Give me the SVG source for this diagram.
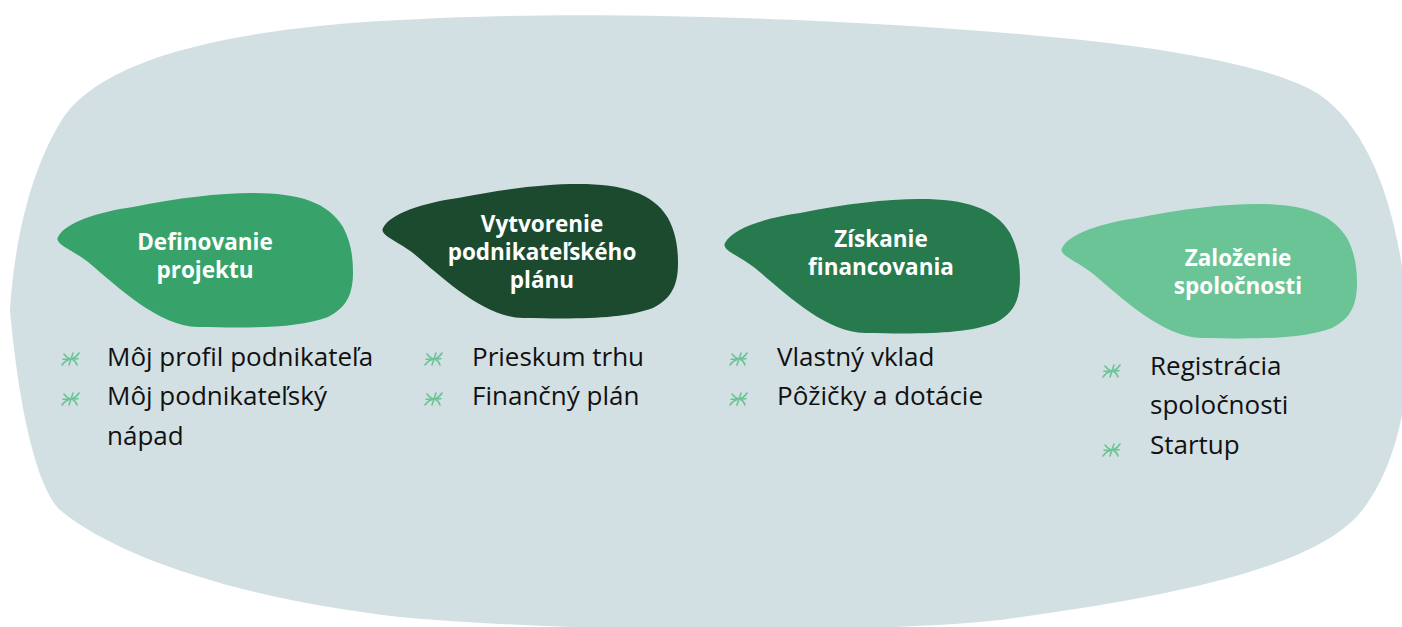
<svg xmlns="http://www.w3.org/2000/svg" width="1402" height="627" viewBox="0 0 1402 627">
<style>
.title{font-family:"Open Sans","Liberation Sans",sans-serif;font-weight:700;font-size:22.5px;fill:#ffffff;text-anchor:middle}
.item{font-family:"Open Sans","Liberation Sans",sans-serif;font-size:26px;fill:#111111}
.bul{fill:none;stroke:#6bc496;stroke-width:1.6;stroke-linecap:round;stroke-linejoin:round}
</style>
<defs>
<path id="leaf" d="M 0,45 C 8,30 40,20 75,15 C 120,6 160,1 195,1 C 240,1 270,10 285,35 C 293,50 295,65 295,80 C 295,100 290,115 270,125 C 240,136 200,136 140,135 C 100,134 60,95 30,70 C 15,58 -4,52 0,45 Z"/>
<g id="bullet">
<path class="bul" d="M -7,-5 C -5,-2 -3,-1 -1,0 C -4,1 -7,3 -9,6 M 8,-6 C 6,-3 4,-1 1,0 C 3,1 5,3 6,6 M 2,-6 L -2,6 M -8,0.3 L 7,-0.3"/>
</g>
</defs>
<path id="background" fill="#d3e0e3" d="M 10,310 C 15,230 35,160 65,115 C 110,55 240,28 400,20 C 600,8 900,20 1100,42 C 1220,56 1290,75 1320,95 C 1370,130 1400,210 1408,320 C 1412,400 1395,470 1360,513 C 1320,560 1210,592 1000,620 C 900,632 600,635 400,617 C 250,600 120,560 60,510 C 35,485 18,400 10,310 Z"/>
<g id="connectors"/>
<g id="node1">
<use href="#leaf" x="58" y="192" fill="#37a36b"/>
<text class="title" x="205" y="250">Definovanie</text>
<text class="title" x="205" y="278">projektu</text>
<use href="#bullet" x="71" y="359"/>
<use href="#bullet" x="71" y="399"/>
<text class="item" x="107" y="366">Môj profil podnikateľa</text>
<text class="item" x="107" y="405">Môj podnikateľský</text>
<text class="item" x="107" y="445">nápad</text>
</g>
<g id="node2">
<use href="#leaf" x="383" y="183" fill="#1c4a2e"/>
<text class="title" x="542" y="232">Vytvorenie</text>
<text class="title" x="542" y="260">podnikateľského</text>
<text class="title" x="542" y="288">plánu</text>
<use href="#bullet" x="434" y="359"/>
<use href="#bullet" x="434" y="399"/>
<text class="item" x="472" y="366">Prieskum trhu</text>
<text class="item" x="472" y="405">Finančný plán</text>
</g>
<g id="node3">
<use href="#leaf" x="725" y="198" fill="#267a4e"/>
<text class="title" x="881" y="247">Získanie</text>
<text class="title" x="881" y="275">financovania</text>
<use href="#bullet" x="739" y="359"/>
<use href="#bullet" x="739" y="399"/>
<text class="item" x="777" y="366">Vlastný vklad</text>
<text class="item" x="777" y="405">Pôžičky a dotácie</text>
</g>
<g id="node4">
<use href="#leaf" x="1062" y="203" fill="#6bc496"/>
<text class="title" x="1238" y="266">Založenie</text>
<text class="title" x="1238" y="294">spoločnosti</text>
<use href="#bullet" x="1112" y="371"/>
<use href="#bullet" x="1112" y="450"/>
<text class="item" x="1150" y="375">Registrácia</text>
<text class="item" x="1150" y="414">spoločnosti</text>
<text class="item" x="1150" y="454">Startup</text>
</g>
</svg>
